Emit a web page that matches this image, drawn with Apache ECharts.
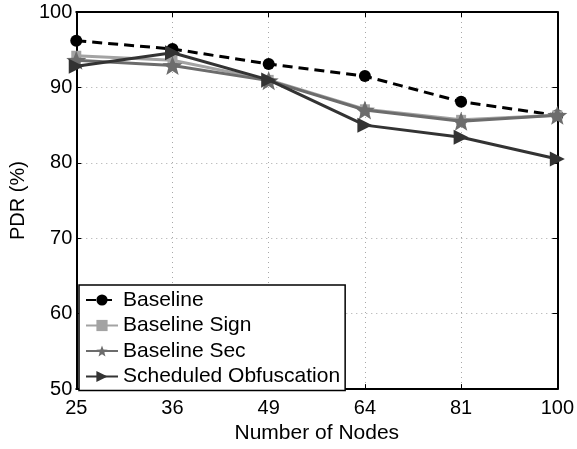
<!DOCTYPE html>
<html>
<head>
<meta charset="utf-8">
<script src="https://cdn.jsdelivr.net/npm/echarts@6/dist/echarts.min.js"></script>
<style>
  html, body { margin: 0; padding: 0; background: #fff; }
  #chart { width: 577px; height: 449px; }
</style>
</head>
<body>
<div id="chart"></div>
<script>
// Node counts along the x axis
var nodeCounts = ['25', '36', '49', '64', '81', '100'];

// Packet delivery ratio (%) for each scheme
var baseline = [96.2, 95.1, 93.1, 91.5, 88.1, 86.3];
var baselineSign = [94.2, 93.6, 91.0, 87.1, 85.7, 86.3];
var baselineSec = [93.6, 92.9, 90.9, 87.0, 85.5, 86.3];
var scheduledObfuscation = [92.8, 94.6, 91.0, 85.0, 83.4, 80.5];

// Y axis range
var yMin = 50, yMax = 100, yStep = 10;

// Five-point star symbol as an SVG path
function starPath() {
  var pts = [];
  for (var i = 0; i < 10; i++) {
    var r = (i % 2 === 0) ? 50 : 21;
    var a = -Math.PI / 2 + i * Math.PI / 5;
    pts.push((50 + r * Math.cos(a)).toFixed(2) + ',' + (50 + r * Math.sin(a)).toFixed(2));
  }
  return 'path://M' + pts.join('L') + 'Z';
}

var FONT = '"Liberation Sans", Arial, sans-serif';
var chart = echarts.init(document.getElementById('chart'), null, { renderer: 'canvas' });

var frameAxisLine = { show: true, lineStyle: { color: '#000', width: 2 } };
var innerTick = { show: true, inside: true, length: 5, lineStyle: { color: '#000', width: 1 } };
var dotted = { show: true, lineStyle: { color: '#a8a8a8', width: 1, type: [1, 4] } };

chart.setOption({
  backgroundColor: '#fff',
  animation: false,
  textStyle: { fontFamily: FONT },
  grid: { left: 74, right: 18, top: 12, bottom: 55, show: false },
  xAxis: [{
    type: 'category',
    data: nodeCounts,
    boundaryGap: false,
    position: 'bottom',
    name: 'Number of Nodes',
    nameLocation: 'middle',
    nameGap: 27,
    nameTextStyle: { color: '#000', fontSize: 21, fontFamily: FONT },
    axisLine: frameAxisLine,
    axisTick: { show: true, inside: true, length: 5, alignWithLabel: true, lineStyle: { color: '#000' } },
    axisLabel: { color: '#000', fontSize: 20, margin: 9, fontFamily: FONT },
    splitLine: dotted
  }, {
    type: 'category',
    data: nodeCounts,
    boundaryGap: false,
    position: 'top',
    axisLine: frameAxisLine,
    axisTick: { show: true, inside: true, length: 5, lineStyle: { color: '#000' } },
    axisLabel: { show: false },
    splitLine: { show: false }
  }],
  yAxis: [{
    type: 'value',
    min: yMin, max: yMax, interval: yStep,
    position: 'left',
    name: 'PDR (%)',
    nameLocation: 'middle',
    nameGap: 48,
    nameTextStyle: { color: '#000', fontSize: 20, fontFamily: FONT },
    axisLine: frameAxisLine,
    axisTick: innerTick,
    axisLabel: { color: '#000', fontSize: 20, margin: 4, fontFamily: FONT },
    splitLine: dotted
  }, {
    type: 'value',
    min: yMin, max: yMax, interval: yStep,
    position: 'right',
    axisLine: frameAxisLine,
    axisTick: innerTick,
    axisLabel: { show: false },
    splitLine: { show: false }
  }],
  legend: {
    orient: 'vertical',
    left: 79, top: 285,
    padding: [4, 5, 3, 6],
    backgroundColor: '#fff',
    borderColor: '#000',
    borderWidth: 1.5,
    borderRadius: 0,
    itemWidth: 32, itemHeight: 14, itemGap: 3.5,
    textStyle: { color: '#000', fontSize: 21, lineHeight: 22, fontFamily: FONT },
    data: ['Baseline', 'Baseline Sign', 'Baseline Sec', 'Scheduled Obfuscation']
  },
  series: [{
    name: 'Baseline', type: 'line', data: baseline,
    symbol: 'circle', symbolSize: 12,
    itemStyle: { color: '#000' },
    lineStyle: { color: '#000', width: 3, type: [10, 6] },
    z: 2
  }, {
    name: 'Baseline Sign', type: 'line', data: baselineSign,
    symbol: 'rect', symbolSize: 10,
    itemStyle: { color: '#a3a3a3' },
    lineStyle: { color: '#a3a3a3', width: 3 },
    z: 3
  }, {
    name: 'Baseline Sec', type: 'line', data: baselineSec,
    symbol: starPath(), symbolSize: 20, symbolKeepAspect: true,
    itemStyle: { color: '#6c6c6c' },
    lineStyle: { color: '#6c6c6c', width: 3 },
    z: 4
  }, {
    name: 'Scheduled Obfuscation', type: 'line', data: scheduledObfuscation,
    symbol: 'triangle', symbolSize: [15, 15], symbolRotate: -90,
    itemStyle: { color: '#333333' },
    lineStyle: { color: '#333333', width: 3 },
    z: 5
  }]
});
</script>
</body>
</html>
